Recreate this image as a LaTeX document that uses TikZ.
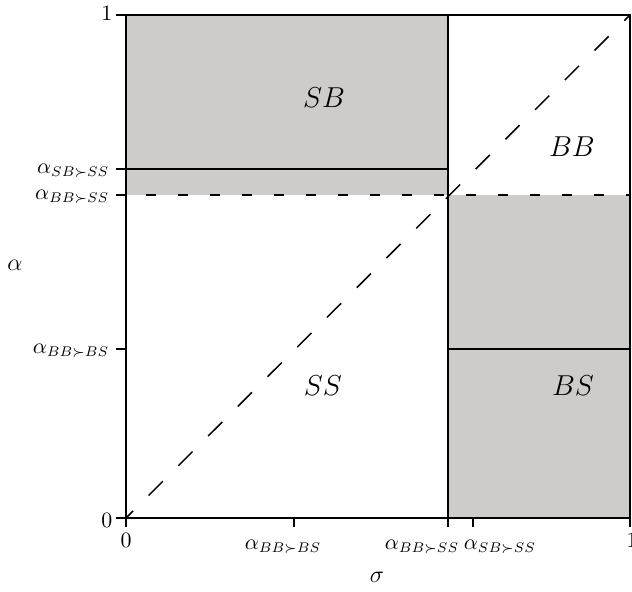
\documentclass[tikz,border=0pt]{standalone}
\usepackage{amssymb}
\begin{document}
\begin{tikzpicture}[x=0.5pt,y=-0.5pt, line width=0.75pt, line cap=butt]
\definecolor{regiongray}{RGB}{205,204,202}
\tikzset{
  ticklab/.style={inner sep=0pt, font=\fontsize{10.5}{12.5}\selectfont},
  regionlab/.style={inner sep=0pt, font=\fontsize{14.5}{16}\selectfont},
  axislab/.style={inner sep=0pt, font=\fontsize{13}{15}\selectfont},
  tickmark/.style={line width=0.75pt},
  diagdash/.style={dash pattern=on 10pt off 11pt, dash phase=5pt},
  levdash/.style={dash pattern=on 5pt off 11pt, dash phase=6pt}
}
\useasboundingbox (0,0) rectangle (632,591);
% shaded regions
\fill[regiongray] (126,15) rectangle (448,195);
\fill[regiongray] (448,195) rectangle (630,518);
% boundaries
\draw (448,15) -- (448,518);
\draw (126,169) -- (448,169);
\draw (448,349) -- (630,349);
\draw[levdash] (126,195) -- (630,195);
\draw[diagdash] (126,518) -- (630,15);
% frame
\draw (126,15) rectangle (630,518);
% y ticks
\foreach \yy in {15,169,195,349,518} \draw[tickmark] (116,\yy) -- (126,\yy);
% x ticks
\foreach \xx in {126,294,448,473,630} \draw[tickmark] (\xx,518) -- (\xx,527);
% y tick labels
\node[ticklab, anchor=east] (y1) at (113,13) {$1$};
\node[ticklab, anchor=east] (ysb) at (110,171) {$\alpha_{SB\succ SS}$};
\node[ticklab, anchor=east] (ybb) at (110,197) {$\alpha_{BB\succ SS}$};
\node[ticklab, anchor=east] (ybs) at (110,351) {$\alpha_{BB\succ BS}$};
\node[ticklab, anchor=east] (y0) at (113,520) {$0$};
% x tick labels
\node[ticklab] (x0) at (126,540) {$0$};
\node[ticklab] (xbs) at (283,547) {$\alpha_{BB\succ BS}$};
\node[ticklab] (xbb) at (422,547) {$\alpha_{BB\succ SS}$};
\node[ticklab] (xsb) at (500,547) {$\alpha_{SB\succ SS}$};
\node[ticklab] (x1) at (632,540) {$1$};
% axis labels
\node[axislab] (sig) at (377,577) {$\sigma$};
\node[axislab] (alp) at (15,265) {$\alpha$};
% region labels
\node[regionlab] (rsb) at (324,98) {$SB$};
\node[regionlab] (rbb) at (572,147) {$BB$};
\node[regionlab] (rss) at (323,386) {$SS$};
\node[regionlab] (rbs) at (573,386) {$BS$};
\end{tikzpicture}
\end{document}
